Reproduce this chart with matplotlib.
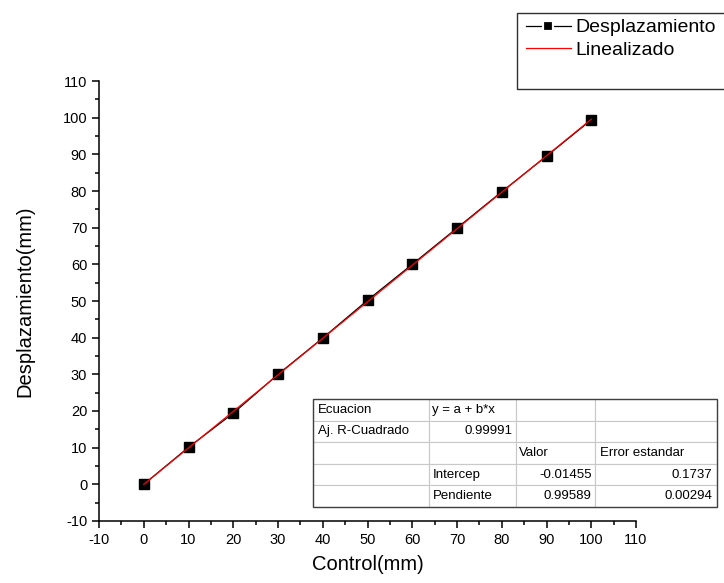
import numpy as np
import matplotlib
matplotlib.use("Agg")
import matplotlib.pyplot as plt
from matplotlib.patches import Rectangle
from matplotlib.lines import Line2D
from matplotlib.ticker import MultipleLocator

plt.rcParams['font.family'] = ['Liberation Sans', 'DejaVu Sans']
plt.rcParams['axes.unicode_minus'] = False

# data
control = [0, 10, 20, 30, 40, 50, 60, 70, 80, 90, 100]
desplazamiento = [0.0, 10.1, 19.4, 30.0, 39.9, 50.2, 60.0, 69.9, 79.8, 89.5, 99.4]

# fit results (from the table)
intercep = -0.01455
pendiente = 0.99589
fit_x = np.array([0, 100])
fit_y = intercep + pendiente * fit_x

table_rows = [
    ["Ecuacion", "y = a + b*x", "", ""],
    ["Aj. R-Cuadrado", "0.99991", "", ""],
    ["", "", "Valor", "Error estandar"],
    ["", "Intercep", "-0.01455", "0.1737"],
    ["", "Pendiente", "0.99589", "0.00294"],
]
right_cells = {(1, 1), (3, 2), (3, 3), (4, 2), (4, 3)}

W, H = 724, 583
fig = plt.figure(figsize=(7.24, 5.83), dpi=100)
ax = fig.add_axes([99 / W, 1 - 521 / H, (636 - 99) / W, (521 - 81) / H])

ax.plot(control, desplazamiento, color='black', linewidth=0.9, marker='s',
        markersize=7, markerfacecolor='black', markeredgecolor='black')
ax.plot(fit_x, fit_y, color='red', linewidth=0.9)

ax.set_xlim(-10, 110)
ax.set_ylim(-10, 110)
ax.xaxis.set_major_locator(MultipleLocator(10))
ax.yaxis.set_major_locator(MultipleLocator(10))
ax.xaxis.set_minor_locator(MultipleLocator(5))
ax.yaxis.set_minor_locator(MultipleLocator(5))
for s in ['top', 'right']:
    ax.spines[s].set_visible(False)
for s in ['left', 'bottom']:
    ax.spines[s].set_linewidth(1.1)
ax.tick_params(which='major', direction='out', length=5, width=1.1, labelsize=10.5)
ax.tick_params(which='minor', direction='out', length=3, width=1.1)
ax.set_xlabel('Control(mm)', fontsize=14.5, labelpad=6)
ax.set_ylabel('Desplazamiento(mm)', fontsize=14.5, labelpad=20)

# fit results table
col_w = np.array([116, 87, 79, 122], dtype=float)
col_w = col_w / col_w.sum()
tx0 = (313 - 99) / 537
tx1 = (717 - 99) / 537
ty0 = (521 - 507) / 440
ty1 = (521 - 399) / 440
tab = ax.table(cellText=table_rows, colWidths=list(col_w * (tx1 - tx0)),
               bbox=[tx0, ty0, tx1 - tx0, ty1 - ty0], cellLoc='left')
tab.auto_set_font_size(False)
tab.set_fontsize(9.5)
for (r, c), cell in tab.get_celld().items():
    cell.set_edgecolor('#c8c8c8')
    cell.set_linewidth(0.8)
    cell.set_facecolor('white')
    cell.PAD = 0.04
    if (r, c) in right_cells:
        cell.get_text().set_ha('right')
        cell._loc = 'right'
ax.add_patch(Rectangle((tx0, ty0), tx1 - tx0, ty1 - ty0, transform=ax.transAxes,
                       fill=False, edgecolor='#404040', linewidth=1.0,
                       clip_on=False, zorder=10))

# legend box outside the axes
fig.patches.append(Rectangle((517 / W, 1 - 89 / H), 220 / W, 76 / H,
                             transform=fig.transFigure, fill=False,
                             edgecolor='#303030', linewidth=1.0))
handles = [
    Line2D([], [], color='black', linewidth=0.9, marker='s', markersize=7.5,
           markerfacecolor='black', markeredgecolor='white', markeredgewidth=1.6),
    Line2D([], [], color='red', linewidth=0.9),
]
fig.legend(handles, ['Desplazamiento', 'Linealizado'], loc='upper left',
           bbox_to_anchor=(518 / W, 1 - 11 / H), frameon=False, fontsize=14,
           handlelength=2.3, handletextpad=0.25, labelspacing=0.25, borderaxespad=0)

fig.savefig('out.png', dpi=100)
